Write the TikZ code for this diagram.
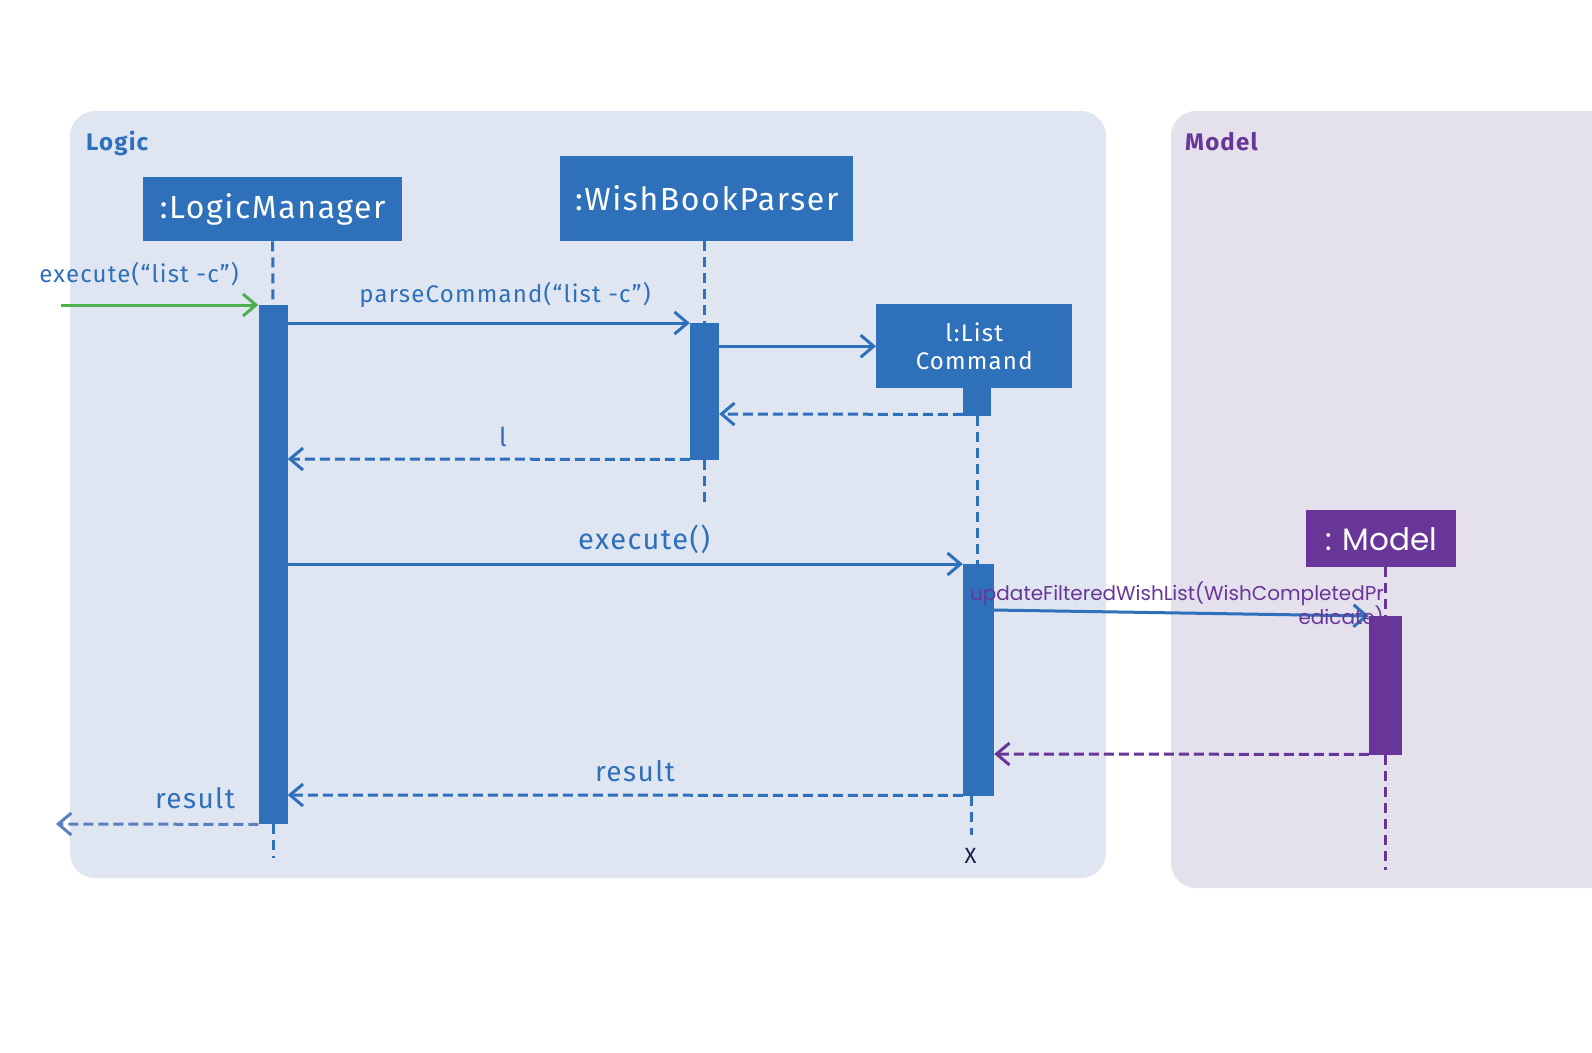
\documentclass[tikz,border=0pt]{standalone}
\usepackage{fontspec}
\setmainfont{Fira Sans}[LetterSpace=5]
\newfontfamily\geofont{Poppins}
\usetikzlibrary{arrows.meta,calc}
\definecolor{lg-blue}{RGB}{46,112,186}
\definecolor{lt-blue}{RGB}{90,128,192}
\definecolor{md-purple}{RGB}{104,54,153}
\definecolor{md-green}{RGB}{76,175,80}
\definecolor{logic-bg}{RGB}{223,230,241}
\definecolor{model-bg}{RGB}{228,224,236}
\definecolor{dk-navy}{RGB}{22,32,78}
\newcommand{\fsz}[1]{\fontsize{#1pt}{\dimexpr #1pt*6/5\relax}\selectfont}
\tikzset{
	obj/.style={fill=#1, text=white, inner sep=0pt, align=center},
	actbar/.style={fill=#1, minimum width=29pt, inner sep=0pt, anchor=north},
	msg/.style={line width=3pt, -{Straight Barb[length=13pt,width=22pt,line width=3pt]}},
	ret/.style={msg, dash pattern=on 10pt off 5pt},
	life/.style={line width=3pt, dash pattern=on 10pt off 6pt},
	lbl/.style={inner sep=0pt, text=lg-blue}
}

\begin{document}
\begin{tikzpicture}[x=1pt,y=-1pt]
	\useasboundingbox (0,0) rectangle (1592,1052);
	\clip (0,0) rectangle (1592,1052);
	
	%panels
	\fill[logic-bg, rounded corners=25pt] (70,111) rectangle (1106,878);
	\fill[model-bg, rounded corners=25pt] (1171,111) rectangle (1650,888);
	\node[lbl, anchor=west, font=\bfseries\fsz{24}] (logic) at (86,143) {Logic};
	\node[lbl, anchor=west, text=md-purple, font=\bfseries\fsz{24}] (model) at (1185,142) {Model};
	
	%objects
	\node[obj=lg-blue, minimum width=259pt, minimum height=64pt, anchor=north west, font=\fsz{32}] (lm) at (143,177) {:LogicManager};
	\node[obj=lg-blue, minimum width=293pt, minimum height=85pt, anchor=north west, font=\fsz{32}] (wbp) at (560,156) {:WishBookParser};
	\node[obj=lg-blue, minimum width=196pt, minimum height=84pt, anchor=north west, font=\fsz{24}] (lc) at (876,304) {l:List\\Command};
	\node[obj=md-purple, minimum width=150pt, minimum height=57pt, anchor=north west, font=\geofont\fsz{31}] (mdl) at (1306,510) {: Model};
	
	%activation bars
	\node[actbar=lg-blue, minimum height=519pt] (lmact) at (273,305) {};
	\node[actbar=lg-blue, minimum height=137pt] (wbpact) at (704.5,323) {};
	\node[actbar=lg-blue, minimum height=28pt, minimum width=28pt] (lcsmall) at (977,388) {};
	\node[actbar=lg-blue, minimum height=232pt, minimum width=31pt] (lcact) at (978.5,564) {};
	\node[actbar=md-purple, minimum height=139pt, minimum width=33pt] (mact) at (1385.5,616) {};
	
	%lifelines
	\draw[life, lg-blue] (lm.south) -- (lmact.north);
	\draw[life, lg-blue] (lmact.south) -- ++(0,34);
	\draw[life, lg-blue] (wbp.south -| wbpact.north) -- (wbpact.north);
	\draw[life, lg-blue] (wbpact.south) -- ++(0,45);
	\draw[life, lg-blue] (lcsmall.south) -- (lcsmall.south |- lcact.north);
	\draw[life, lg-blue] ($(lcact.south)+(-7,0)$) -- ++(0,39);
	\draw[life, md-purple] (mdl.south -| mact.north) -- (mact.north);
	\draw[life, md-purple] (mact.south) -- ++(0,115);
	\node[lbl, text=dk-navy, font=\fsz{22}] (destroy) at ($(lcact.south)+(-8,60)$) {X};
	
	%messages
	\coordinate (instart) at (61,305);
	\coordinate (outend) at (56,824);
	\coordinate (updstart) at (993,610);
	\draw[msg, md-green] (instart) -- (lmact.north west);
	\draw[msg, lg-blue] (lmact.east |- wbpact.north west) -- (wbpact.north west);
	\draw[msg, lg-blue] (wbpact.east |- lc.west) -- (lc.west);
	\draw[ret, lg-blue] ($(lcsmall.south west)+(0,-2)$) -- (wbpact.east |- 0,414);
	\draw[ret, lg-blue] ($(wbpact.south west)+(0,-1)$) -- (lmact.east |- 0,459);
	\draw[msg, lg-blue] (lmact.east |- lcact.north west) -- (lcact.north west);
	\draw[msg, lg-blue] (updstart) -- (mact.north west);
	\draw[ret, md-purple] ($(mact.south west)+(0,-1)$) -- (lcact.east |- 0,754);
	\draw[ret, lg-blue] ($(lcact.south west)+(0,-1)$) -- (lmact.east |- 0,795);
	\draw[ret, lt-blue] (lmact.south west) -- (outend);
	
	%labels
	\node[lbl, font=\fsz{24}] (inlbl) at (139,274) {execute(“list -c”)};
	\node[lbl, font=\fsz{24}] (parselbl) at (505,295) {parseCommand(“list -c”)};
	\node[lbl, font=\fsz{26}] (llbl) at (503,437) {l};
	\node[lbl, font=\fsz{29}] (exelbl) at (644,539) {execute()};
	\node[lbl, text=md-purple, anchor=north east, align=right, font=\geofont\fsz{20}] (updlbl) at (1384,582) {updateFilteredWishList(WishCompletedPr\\edicate)};
	\node[lbl, font=\fsz{28}] (reslbl) at (635,771) {result};
	\node[lbl, font=\fsz{28}] (outlbl) at (195,798) {result};
\end{tikzpicture}
\end{document}
